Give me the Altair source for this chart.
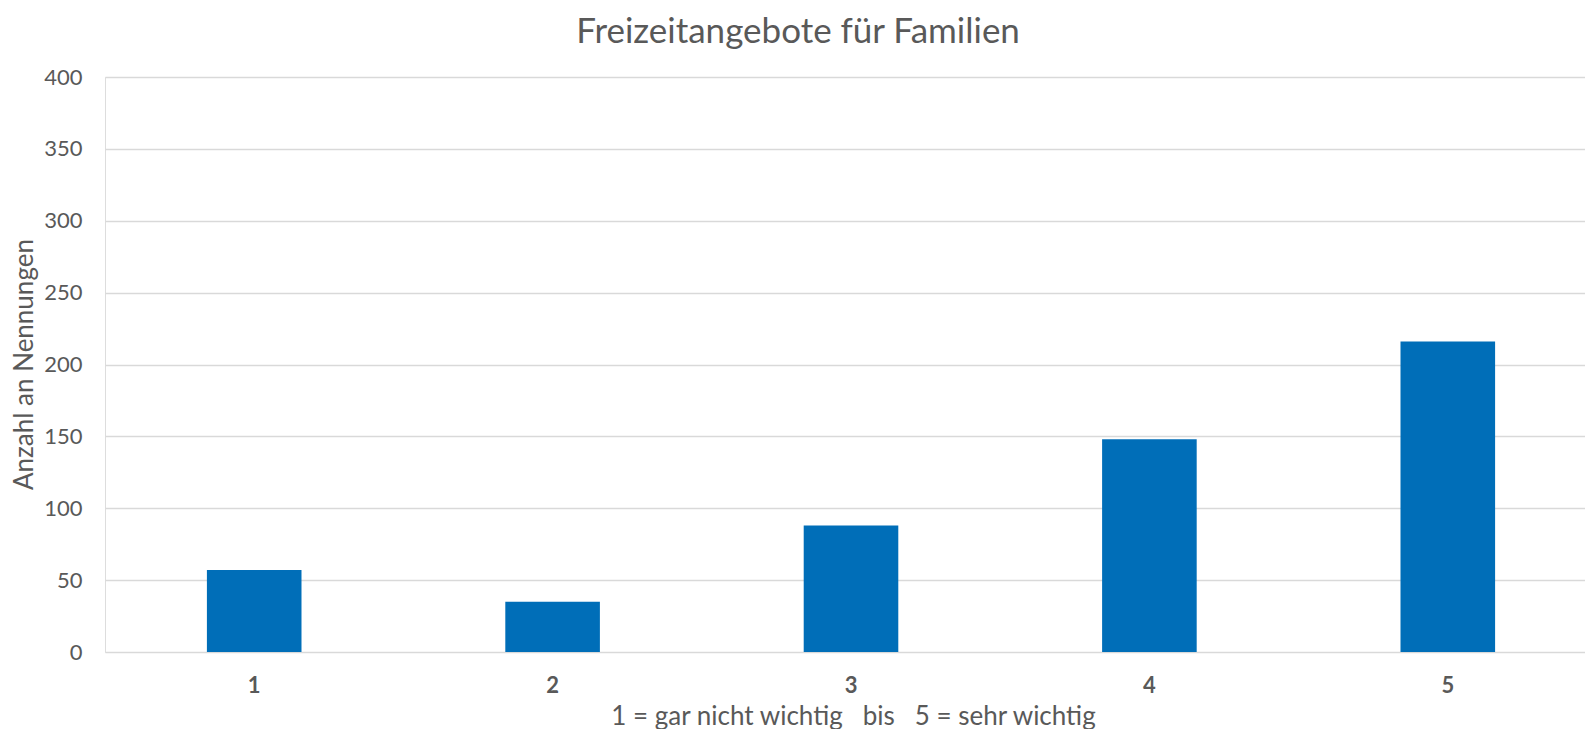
import altair as alt
import pandas as pd

categories = ["1", "2", "3", "4", "5"]
counts = [57, 35, 88, 148, 216]
y_ticks = [0, 50, 100, 150, 200, 250, 300, 350, 400]

title_text = "Freizeitangebote für Familien"
x_title = "1 = gar nicht wichtig\u00a0\u00a0 bis\u00a0\u00a0 5 = sehr wichtig"
y_title = "Anzahl an Nennungen"

df = pd.DataFrame({"Bewertung": categories, "Anzahl": counts})

FONT = "Lato"
GRAY = "#595959"
BLUE = "#006EB8"

chart = (
    alt.Chart(df)
    .mark_bar(color=BLUE)
    .encode(
        x=alt.X(
            "Bewertung:N",
            sort=categories,
            scale=alt.Scale(paddingInner=0.683, paddingOuter=0.3415, range=[0, 1492]),
            axis=alt.Axis(
                title=x_title,
                labelAngle=0,
                labelFont=FONT,
                labelFontSize=22,
                labelFontWeight="bold",
                labelColor=GRAY,
                labelPadding=23,
                ticks=False,
                domain=False,
                titleFont=FONT,
                titleFontSize=26,
                titleFontWeight="normal",
                titleColor=GRAY,
                titleX=748,
                titleY=72,
                titleAlign="center",
                titleBaseline="alphabetic",
            ),
        ),
        y=alt.Y(
            "Anzahl:Q",
            scale=alt.Scale(domain=[0, 400], nice=False),
            axis=alt.Axis(
                title=y_title,
                values=y_ticks,
                labelFont=FONT,
                labelFontSize=22,
                labelColor=GRAY,
                labelPadding=23,
                ticks=False,
                domain=False,
                grid=True,
                gridColor="#D9D9D9",
                gridWidth=1.4,
                titleFont=FONT,
                titleFontSize=26,
                titleFontWeight="normal",
                titleColor=GRAY,
                titleAngle=-90,
                titleX=-81,
                titleY=287,
                titleAlign="center",
                titleBaseline="middle",
            ),
        ),
    )
    .properties(
        width=1480,
        height=575,
        autosize="none",
        padding={"left": 97, "top": 69, "right": 0, "bottom": 77},
        title=alt.TitleParams(
            title_text,
            font=FONT,
            fontSize=35,
            fontWeight="normal",
            color=GRAY,
            anchor="middle",
            frame="group",
            dx=-47,
            dy=-12,
        ),
    )
    .configure_view(stroke=None)
    .configure(background="white")
)

chart.save("out.html", embed_options={"renderer": "svg", "actions": False})
